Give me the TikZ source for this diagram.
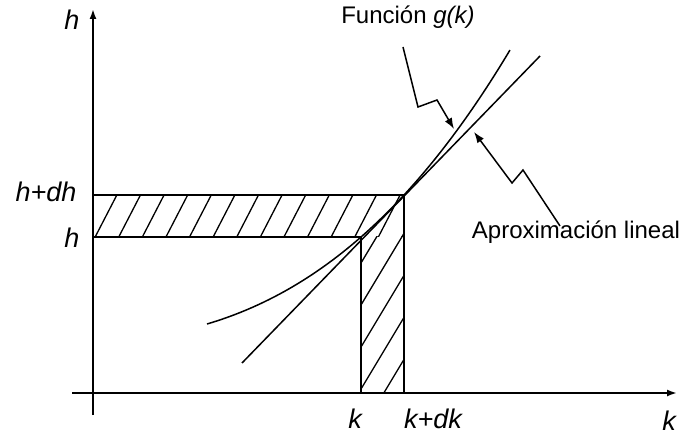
\documentclass[tikz,border=0pt]{standalone}
\usepackage{fontspec}
\setmainfont{Liberation Sans}
\usetikzlibrary{arrows.meta}
\tikzset{
  axisline/.style={line width=1.9pt},
  thinline/.style={line width=1.5pt},
  hatchline/.style={line width=1.3pt},
  callout/.style={line width=1.5pt,-{Latex[length=11pt,width=8pt]}},
  mathlbl/.style={font=\fontsize{27}{30}\selectfont\itshape,inner sep=0pt},
  txtlbl/.style={font=\fontsize{24}{28}\selectfont,inner sep=0pt}
}
\begin{document}
\begin{tikzpicture}[x=1pt,y=-1pt]
\useasboundingbox (0,0) rectangle (684,435);
% axes
\coordinate (xl) at (72,393);
\coordinate (xr) at (677,393);
\coordinate (yb) at (93,415);
\coordinate (yt) at (93,9);
\draw[axisline,-{Latex[length=10pt,width=7pt]}] (xl) -- (xr);
\draw[axisline,-{Latex[length=10pt,width=7pt]}] (yb) -- (yt);
% key points
\coordinate (k0) at (361,393);
\coordinate (kh) at (361,237);
\coordinate (kd0) at (404,393);
\coordinate (kdh) at (404,195);
\coordinate (h0) at (93,237);
\coordinate (hd0) at (93,195);
% hatching top band
\begin{scope}
\clip (93,195) rectangle (404,237);
\foreach \n in {-1,...,14} {
  \draw[hatchline] ({95+23.6*\n-4},{245}) -- ({95+23.6*\n+26},{187});
}
\end{scope}
% hatching vertical band
\begin{scope}
\clip (361,237) rectangle (404,393);
\foreach \n in {-2,...,4} {
  \draw[hatchline] ({361-0.6*8},{263+42*\n+8}) -- ({361+0.6*90},{263+42*\n-90});
}
\end{scope}
% band outlines
\draw[thinline] (hd0) -- (kdh) -- (kd0);
\draw[thinline] (h0) -- (kh) -- (k0);
% curve g(k)
\draw[thinline] plot[domain=0:3.03,samples=80] ({207+100*\x},{324-(29.65*\x+14.71*\x*\x+1.766*\x*\x*\x)});
% linear approximation
\coordinate (ls) at (242,363);
\coordinate (le) at (540,56);
\draw[thinline] (ls) -- (le);
% labels
\node[mathlbl] (lh) at (72,20) {h};
\node[mathlbl] (lhdh) at (46,192) {h+dh};
\node[mathlbl] (lh2) at (72,238) {h};
\node[mathlbl] (lk) at (355,419) {k};
\node[mathlbl] (lkdk) at (433,419) {k+dk};
\node[mathlbl] (lkx) at (669,421) {k};
\node[txtlbl] (lg) at (408,17) {Función \textit{g(k)}};
\node[txtlbl] (la) at (576,232) {Aproximación lineal};
% callouts
\coordinate (g1) at (403,47);
\coordinate (g2) at (418,107);
\coordinate (g3) at (437,100);
\coordinate (g4) at (454,129);
\draw[callout] (g1) -- (g2) -- (g3) -- (g4);
\coordinate (a1) at (560,226);
\coordinate (a2) at (523,170);
\coordinate (a3) at (512,183);
\coordinate (a4) at (474,132);
\draw[callout] (a1) -- (a2) -- (a3) -- (a4);
\end{tikzpicture}
\end{document}
